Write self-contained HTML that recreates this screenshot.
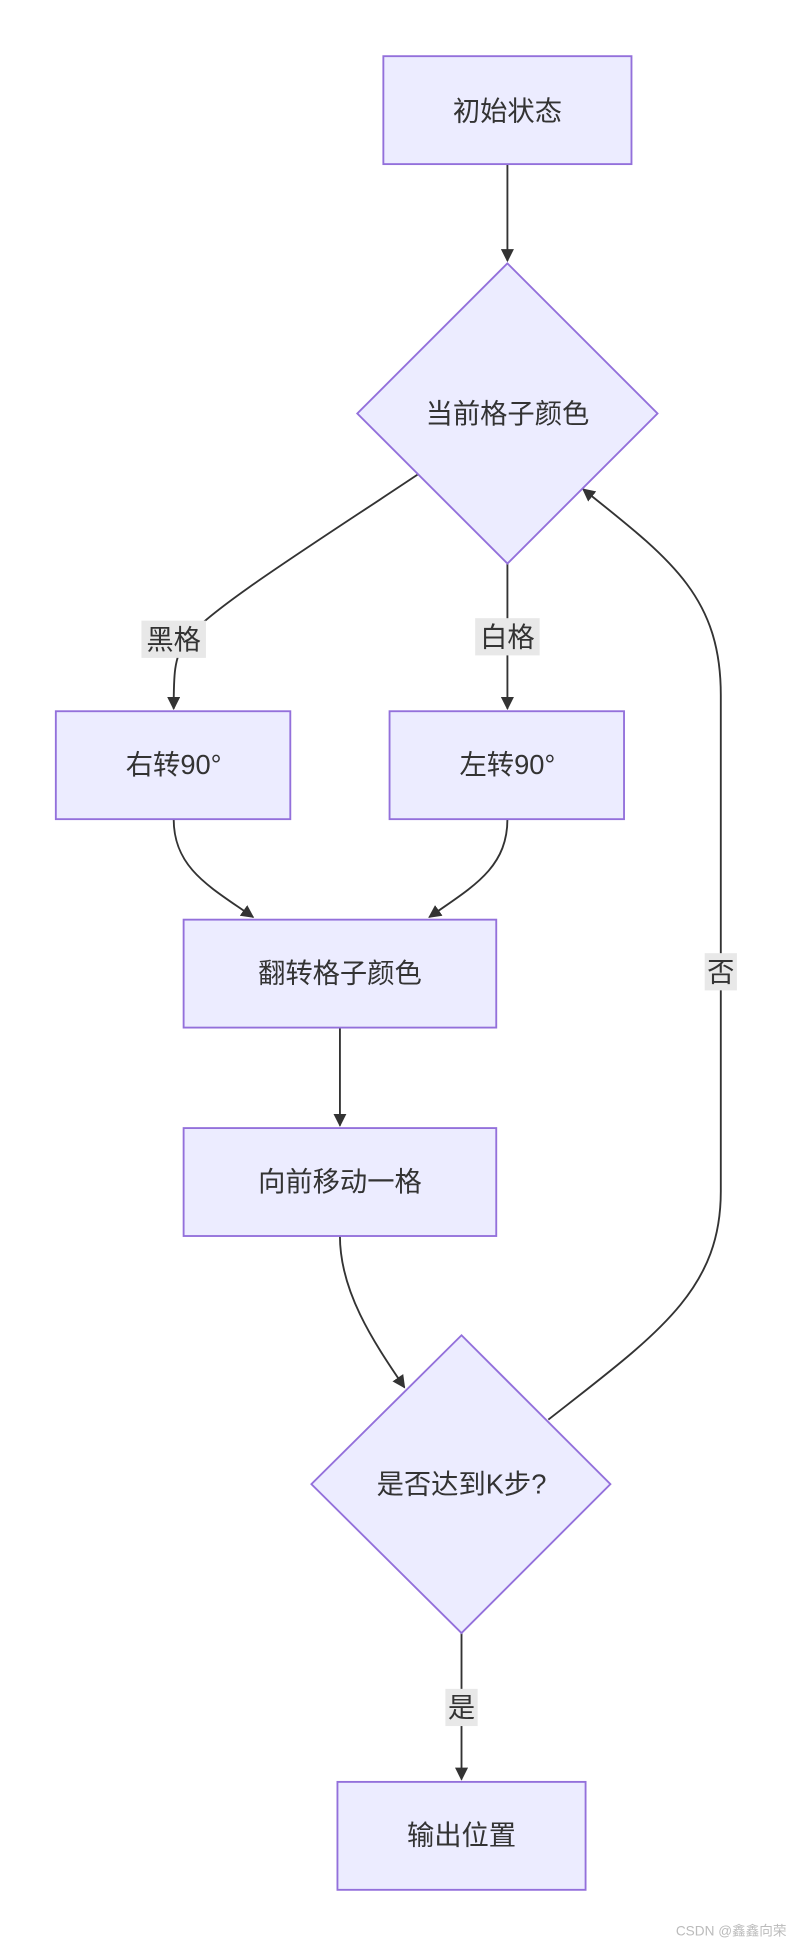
<!DOCTYPE html>
<html><head><meta charset="utf-8"><style>
html,body{margin:0;padding:0;background:#fff;}
svg{display:block;}
text{font-family:"Liberation Sans","Noto Sans CJK SC",sans-serif;fill:#333;}
</style></head><body>
<svg width="794" height="1946" viewBox="0 0 640 1568" xmlns="http://www.w3.org/2000/svg">
<defs><marker id="a" viewBox="0 0 10 10" refX="9" refY="5" markerWidth="7" markerHeight="7" orient="auto"><path d="M0,0L10,5L0,10z" fill="#333"/></marker></defs>
<g fill="none" stroke="#333" stroke-width="1.5">
<path d="M409,132 L409,210" marker-end="url(#a)"/>
<path d="M337,382 C250,440 170,490 150,515 C140,530 140,545 140,571" marker-end="url(#a)"/>
<path d="M409,454 L409,571" marker-end="url(#a)"/>
<path d="M140,660 C140,700 170,715 204,739" marker-end="url(#a)"/>
<path d="M409,660 C409,700 380,715 346,739" marker-end="url(#a)"/>
<path d="M274,828 L274,907" marker-end="url(#a)"/>
<path d="M274,996 C274,1040 300,1080 326,1118" marker-end="url(#a)"/>
<path d="M442,1144 C530,1075 581,1040 581,960 L581,560 C581,480 540,450 470,394" marker-end="url(#a)"/>
<path d="M372,1316 L372,1434" marker-end="url(#a)"/>
</g>
<g fill="#ECECFF" stroke="#9370DB" stroke-width="1.5">
<rect x="309" y="45" width="200" height="87"/>
<polygon points="409,212 530,333 409,454 288,333"/>
<rect x="45" y="573" width="189" height="87"/>
<rect x="314" y="573" width="189" height="87"/>
<rect x="148" y="741" width="252" height="87"/>
<rect x="148" y="909" width="252" height="87"/>
<polygon points="372,1076 492,1196 372,1316 251,1196"/>
<rect x="272" y="1436" width="200" height="87"/>
</g>
<g fill="#e8e8e8">
<rect x="114" y="500" width="52" height="30"/>
<rect x="383" y="498" width="52" height="30"/>
<rect x="568" y="768" width="26" height="30"/>
<rect x="359" y="1361" width="26" height="30"/>
</g>
<g font-size="22" text-anchor="middle" dominant-baseline="central">
<text x="409" y="89">初始状态</text>
<text x="409" y="333">当前格子颜色</text>
<text x="140" y="616">右转90°</text>
<text x="409" y="616">左转90°</text>
<text x="274" y="784">翻转格子颜色</text>
<text x="274" y="952">向前移动一格</text>
<text x="372" y="1196">是否达到K步?</text>
<text x="372" y="1479">输出位置</text>
<text x="140" y="515">黑格</text>
<text x="409" y="513">白格</text>
<text x="581" y="783">否</text>
<text x="372" y="1376">是</text>
</g>
<text x="634" y="1560" font-size="11" text-anchor="end" style="fill:#bbb">CSDN @鑫鑫向荣</text>
</svg>
</body></html>
